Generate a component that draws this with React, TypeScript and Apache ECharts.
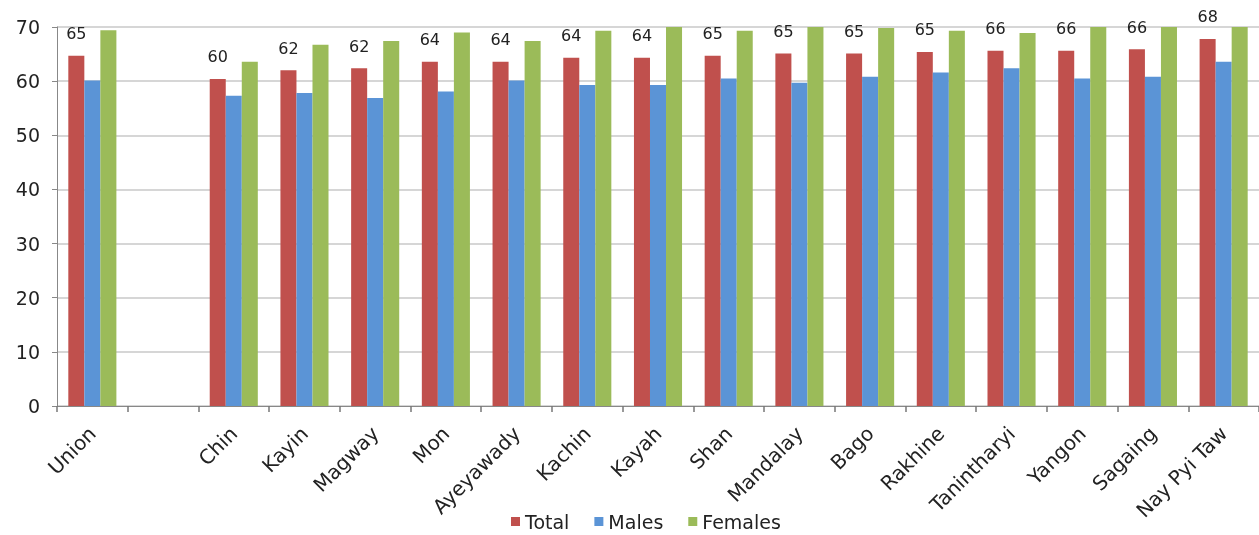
import React, { useEffect, useRef } from "react";
import * as echarts from "echarts";

const categories = ["Union", "", "Chin", "Kayin", "Magway", "Mon", "Ayeyawady", "Kachin", "Kayah", "Shan", "Mandalay", "Bago", "Rakhine", "Tanintharyi", "Yangon", "Sagaing", "Nay Pyi Taw"];
const totalValues = [64.7, null, 60.4, 62.0, 62.4, 63.6, 63.6, 64.3, 64.3, 64.7, 65.1, 65.1, 65.4, 65.6, 65.6, 65.9, 67.8];
const maleValues = [60.1, null, 57.3, 57.8, 56.9, 58.1, 60.1, 59.3, 59.3, 60.5, 59.7, 60.8, 61.6, 62.4, 60.5, 60.8, 63.6];
const femaleValues = [69.4, null, 63.6, 66.7, 67.4, 69.0, 67.4, 69.3, 71.0, 69.3, 71.0, 69.8, 69.3, 68.9, 71.0, 71.0, 71.5];
const yTicks = { min: 0, max: 70, interval: 10 };

export default function App() {
  const ref = useRef<HTMLDivElement>(null);
  useEffect(() => {
    if (!ref.current) return;
    const chart = echarts.init(ref.current, null, { renderer: "svg" });
    const font = "DejaVu Sans, Liberation Sans, Arial, sans-serif";
    chart.setOption({
      animation: false,
      textStyle: { fontFamily: font },
      grid: { left: 57, right: -7, top: 27, bottom: 129, containLabel: false },
      legend: {
        top: 512,
        left: 511,
        padding: 0,
        itemWidth: 9,
        itemHeight: 9,
        itemGap: 25,
        icon: "rect",
        textStyle: { fontSize: 19, color: "#222", fontFamily: font },
        data: ["Total", "Males", "Females"],
      },
      xAxis: {
        type: "category",
        data: categories,
        axisLine: { lineStyle: { color: "#888" } },
        axisTick: { show: true, alignWithLabel: false, length: 6, lineStyle: { color: "#777", width: 1.5 } },
        axisLabel: { rotate: 45, fontSize: 20, color: "#222", interval: 0, margin: 24 },
      },
      yAxis: {
        type: "value",
        min: yTicks.min,
        max: yTicks.max,
        interval: yTicks.interval,
        axisLine: { show: true, lineStyle: { color: "#888" } },
        axisTick: { show: true, length: 5, lineStyle: { color: "#888" } },
        axisLabel: { fontSize: 19, color: "#222", margin: 17 },
        splitLine: { lineStyle: { color: "#c8c8c8", width: 1.5 } },
      },
      series: [
        {
          name: "Total",
          type: "bar",
          data: totalValues,
          itemStyle: { color: "#C0504D" },
          barGap: "0%",
          barCategoryGap: "32%",
          label: {
            show: true,
            position: "top",
            distance: 14,
            fontSize: 16,
            color: "#222",
            formatter: (p: any) => String(Math.round(p.value)),
          },
        },
        { name: "Males", type: "bar", data: maleValues, itemStyle: { color: "#5B94D6" } },
        { name: "Females", type: "bar", data: femaleValues, itemStyle: { color: "#9BBB59" }, clip: true },
      ],
    });
    return () => chart.dispose();
  }, []);
  return <div ref={ref} style={{ position: "fixed", left: 0, top: 0, width: 1259, height: 535 }} />;
}
